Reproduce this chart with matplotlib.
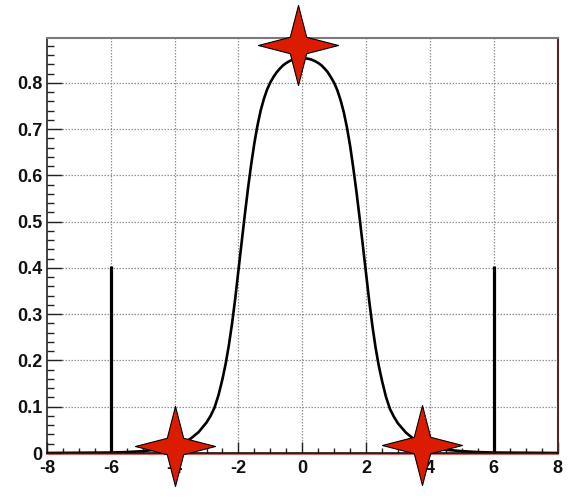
import matplotlib
matplotlib.use("Agg")
import matplotlib.pyplot as plt
from matplotlib.path import Path
import numpy as np

# ---- data ----
curve_x = [-8, -7, -6, -5.5, -5, -4.5, -4, -3.75, -3.5, -3.25, -3, -2.875, -2.75,
           -2.625, -2.5, -2.4, -2.3, -2.2, -2.1, -2.0, -1.9, -1.8, -1.7, -1.6,
           -1.5, -1.4, -1.3, -1.2, -1.1, -1.0, -0.9, -0.8, -0.7, -0.6, -0.5,
           -0.4, -0.3, -0.2, -0.1, 0,
           0.1, 0.2, 0.3, 0.4, 0.5, 0.6, 0.7, 0.8, 0.9, 1.0, 1.1, 1.2, 1.3, 1.4,
           1.5, 1.6, 1.7, 1.8, 1.9, 2.0, 2.1, 2.2, 2.3, 2.4, 2.5, 2.625, 2.75,
           2.875, 3, 3.25, 3.5, 3.75, 4, 4.5, 5, 5.5, 6, 7, 8]
curve_y = [0.0, 0.0005, 0.001, 0.002, 0.004, 0.008, 0.014, 0.021, 0.031, 0.045,
           0.066, 0.080, 0.098, 0.125, 0.160, 0.193, 0.233, 0.280, 0.334, 0.395,
           0.455, 0.515, 0.572, 0.624, 0.670, 0.709, 0.741, 0.766, 0.786, 0.801,
           0.813, 0.823, 0.831, 0.838, 0.843, 0.847, 0.850, 0.852, 0.853, 0.853,
           0.853, 0.852, 0.850, 0.847, 0.843, 0.838, 0.831, 0.823, 0.812, 0.800,
           0.784, 0.763, 0.737, 0.704, 0.664, 0.616, 0.564, 0.507, 0.448, 0.388,
           0.328, 0.274, 0.227, 0.188, 0.156, 0.121, 0.095, 0.078, 0.064, 0.044,
           0.030, 0.020, 0.013, 0.007, 0.004, 0.002, 0.001, 0.0005, 0.0]

spike_x = [-6, 6]
spike_h = [0.405, 0.405]

star_x = [-4.0, -0.12, 3.74]
star_y = [0.016, 0.881, 0.017]

xticks = [-8, -6, -4, -2, 0, 2, 4, 6, 8]
xticklabels = ["-8", "-6", "-4", "-2", "0", "2", "4", "6", "8"]
yticks = [0, 0.1, 0.2, 0.3, 0.4, 0.5, 0.6, 0.7, 0.8]
yticklabels = ["0", "0.1", "0.2", "0.3", "0.4", "0.5", "0.6", "0.7", "0.8"]

# ---- figure ----
fig = plt.figure(figsize=(5.82, 4.99), dpi=100)
ax = fig.add_axes([47 / 582, 46 / 499, 510.5 / 582, 415 / 499])
ax.set_xlim(-8, 8)
ax.set_ylim(0, 0.897)

# grid
for gx in xticks[1:-1]:
    ax.axvline(gx, color="#909090", lw=0.9, ls=(0, (1.2, 1.2)), zorder=1)
for gy in yticks[1:]:
    ax.axhline(gy, color="#909090", lw=0.9, ls=(0, (1.2, 1.2)), zorder=1)

# red baseline just under the axis
ax.plot([-8, 8], [-0.0025, -0.0025], color="#cc3030", lw=1.1, zorder=2, clip_on=False)

# curve
ax.plot(curve_x, curve_y, color="black", lw=1.9, zorder=3,
        solid_capstyle="round", solid_joinstyle="round")

# spikes
ax.vlines(spike_x, 0, spike_h, color="black", lw=2.3, zorder=4)

# star marker
r = 0.29 / np.sqrt(2)
verts = [(0, 1), (r, r), (1, 0), (r, -r), (0, -1), (-r, -r), (-1, 0), (-r, r), (0, 1)]
codes = [Path.MOVETO] + [Path.LINETO] * 7 + [Path.CLOSEPOLY]
star = Path(verts, codes)
ax.plot(star_x, star_y, ls="none", marker=star, markersize=57.6,
        markerfacecolor="#dc1c00", markeredgecolor="black", markeredgewidth=0.8,
        zorder=10, clip_on=False)

# spines
ax.spines["left"].set_color("#222222")
ax.spines["left"].set_linewidth(1.2)
ax.spines["bottom"].set_color("#111111")
ax.spines["bottom"].set_linewidth(1.2)
ax.spines["bottom"].set_zorder(5)
ax.spines["top"].set_color("#7a7a7a")
ax.spines["top"].set_linewidth(1.5)
ax.spines["right"].set_color("#4a2c2c")
ax.spines["right"].set_linewidth(1.5)

# ticks
ax.set_xticks(xticks)
ax.set_xticklabels(xticklabels)
ax.set_yticks(yticks)
ax.set_yticklabels(yticklabels)
ax.set_xticks(np.arange(-8, 8.01, 0.5), minor=True)
ax.set_yticks(np.arange(0, 0.891, 0.02), minor=True)

for lab in ax.get_xticklabels() + ax.get_yticklabels():
    lab.set_fontfamily("Liberation Sans")
    lab.set_fontweight("bold")
    lab.set_fontsize(13)
    lab.set_color("#111111")

ax.tick_params(axis="y", which="major", direction="in", length=10.8, width=1.0,
               pad=3, color="#222222")
ax.tick_params(axis="y", which="minor", direction="in", length=5.2, width=1.0,
               color="#222222")
ax.tick_params(axis="x", which="major", direction="in", length=7.7, width=1.0,
               pad=5, color="#222222")
ax.tick_params(axis="x", which="minor", direction="in", length=3.4, width=1.0,
               color="#222222")

fig.savefig("out.png", dpi=100)
